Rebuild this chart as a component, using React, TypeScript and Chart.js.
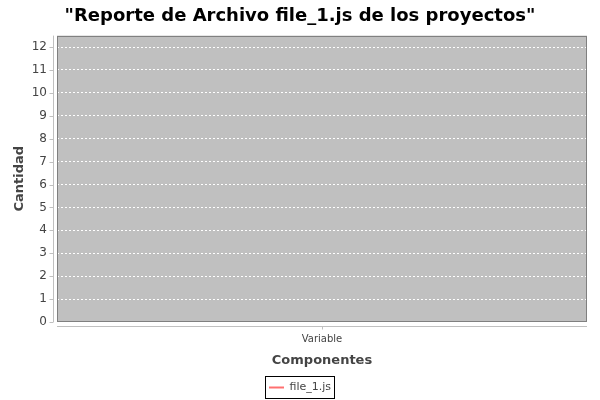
import React, { useEffect, useRef } from 'react';
import { Chart, registerables } from 'chart.js';
Chart.register(...registerables);

const titleText = '"Reporte de Archivo file_1.js de los proyectos"';
const categories = ['Variable'];
const seriesName = 'file_1.js';
const seriesValues = [12];
const yAxisMin = 0;
const yAxisMax = 12.5;
const yTickValues = [0, 1, 2, 3, 4, 5, 6, 7, 8, 9, 10, 11, 12];
const xAxisTitle = 'Componentes';
const yAxisTitle = 'Cantidad';

const FONT = '"DejaVu Sans", sans-serif';

const framePlugin = {
  id: 'frame',
  beforeDraw(chart: any) {
    const { ctx, chartArea: a } = chart;
    ctx.save();
    ctx.fillStyle = '#c0c0c0';
    ctx.fillRect(a.left, a.top, a.right - a.left, a.bottom - a.top);
    ctx.restore();
  },
  afterDraw(chart: any) {
    const { ctx, chartArea: a } = chart;
    ctx.save();
    ctx.strokeStyle = '#808080';
    ctx.lineWidth = 1;
    ctx.strokeRect(Math.round(a.left) + 0.5, Math.round(a.top) + 0.5, Math.round(a.right - a.left) - 1, Math.round(a.bottom - a.top) - 1);
    ctx.strokeStyle = '#c0c0c0';
    const ax = Math.round(a.left) - 4 + 0.5;
    ctx.beginPath();
    ctx.moveTo(ax, a.top);
    ctx.lineTo(ax, a.bottom);
    ctx.stroke();
    const ay = Math.round(a.bottom) + 4 + 0.5;
    ctx.beginPath();
    ctx.moveTo(a.left, ay);
    ctx.lineTo(a.right, ay);
    ctx.stroke();
    const ys = chart.scales.y;
    ys.ticks.forEach((t: any) => {
      const py = Math.round(ys.getPixelForValue(t.value)) + 0.5;
      ctx.beginPath();
      ctx.moveTo(ax - 4, py);
      ctx.lineTo(ax, py);
      ctx.stroke();
    });
    const xs = chart.scales.x;
    categories.forEach((_, i) => {
      const px = Math.round(xs.getPixelForValue(i)) + 0.5;
      ctx.beginPath();
      ctx.moveTo(px, ay);
      ctx.lineTo(px, ay + 3);
      ctx.stroke();
    });
    const lg = chart.legend;
    if (lg && lg.legendHitBoxes && lg.legendHitBoxes.length) {
      const h = lg.legendHitBoxes[0];
      ctx.strokeStyle = '#000';
      ctx.strokeRect(Math.round(h.left) - 3.5, Math.round(h.top) - 5.5, Math.round(h.width) + 7, Math.round(h.height) + 11);
    }
    ctx.restore();
  },
};

export default function App() {
  const ref = useRef<HTMLCanvasElement>(null);
  useEffect(() => {
    document.body.style.margin = '0';
    const chart = new Chart(ref.current as HTMLCanvasElement, {
      type: 'line',
      data: {
        labels: categories,
        datasets: [
          {
            label: seriesName,
            data: seriesValues,
            borderColor: '#ff7070',
            backgroundColor: '#ff7070',
            borderWidth: 2,
            pointRadius: 0,
          },
        ],
      },
      plugins: [framePlugin],
      options: {
        animation: false,
        responsive: false,
        layout: { padding: { left: 13, right: 13, top: 0, bottom: -3 } },
        plugins: {
          title: {
            display: true,
            text: titleText,
            color: '#000',
            font: { family: FONT, size: 18, weight: 'bold' },
            padding: { top: 6, bottom: 8 },
          },
          legend: {
            position: 'bottom',
            labels: {
              usePointStyle: true,
              pointStyle: 'line',
              pointStyleWidth: 15,
              boxWidth: 15,
              color: '#444',
              font: { family: FONT, size: 11 },
              padding: 2,
            },
          },
          tooltip: { enabled: false },
        },
        scales: {
          x: {
            offset: true,
            afterFit: (s: any) => {
              s.height = 58;
            },
            grid: { display: false, drawTicks: false },
            border: { display: false },
            ticks: { color: '#444', font: { family: FONT, size: 10 }, padding: 11 },
            title: {
              display: true,
              text: xAxisTitle,
              color: '#444',
              font: { family: FONT, size: 13, weight: 'bold' },
              padding: { top: 0, bottom: 11.2 },
            },
          },
          y: {
            min: yAxisMin,
            max: yAxisMax,
            afterBuildTicks: (s: any) => {
              s.ticks = yTickValues.map((v) => ({ value: v }));
            },
            afterFit: (s: any) => {
              s.width = 44;
            },
            ticks: { color: '#444', font: { family: FONT, size: 12 }, padding: 10 },
            grid: {
              color: '#ffffff',
              drawTicks: false,
            },
            border: { display: false, dash: [2, 2] },
            title: {
              display: true,
              text: yAxisTitle,
              color: '#444',
              font: { family: FONT, size: 13, weight: 'bold' },
              padding: { top: -1, bottom: 0 },
            },
          },
        },
      },
    } as any);
    return () => chart.destroy();
  }, []);
  return (
    <div style={{ width: 600, height: 400 }}>
      <canvas ref={ref} width={600} height={400} />
    </div>
  );
}
